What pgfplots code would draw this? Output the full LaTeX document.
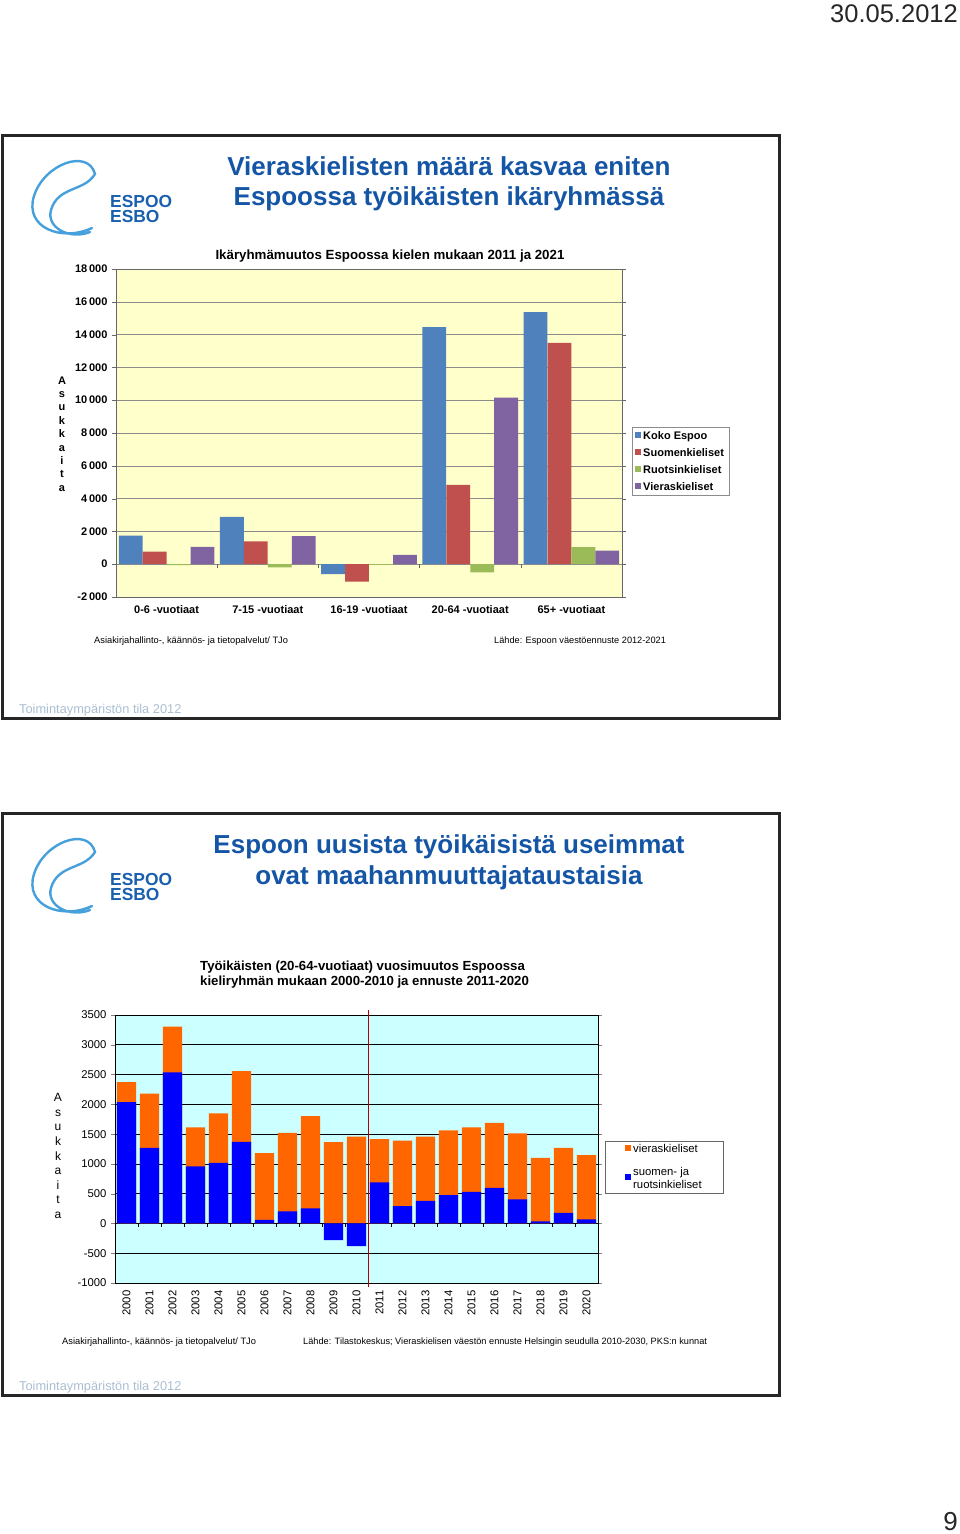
\documentclass[border=0pt]{standalone}
\usepackage{fontspec}
\setmainfont{Liberation Sans}
\usepackage{pgfplots}
\usepackage{pgfplotstable}
\pgfplotsset{compat=1.18}

\definecolor{koko}{RGB}{79,129,189}
\definecolor{suomi}{RGB}{192,80,77}
\definecolor{ruotsi}{RGB}{155,187,89}
\definecolor{vieras}{RGB}{128,100,162}
\definecolor{paperyellow}{RGB}{255,255,204}
\definecolor{papercyan}{RGB}{204,255,255}
\definecolor{vorange}{RGB}{255,102,0}
\definecolor{vblue}{RGB}{0,0,255}
\definecolor{titleblue}{RGB}{20,85,165}
\definecolor{logoblue}{RGB}{70,160,220}
\definecolor{espooblue}{RGB}{25,95,175}
\definecolor{footgray}{RGB}{170,190,210}

% change by age group 2011-2021
\pgfplotstableread{
g koko suomi ruotsi vieras
0 1750 770 -60 1060
1 2880 1390 -200 1710
2 -610 -1060 -40 570
3 14450 4840 -500 10160
4 15370 13500 1040 830
}\ikaryhmat

% yearly change of working-age population
\pgfplotstableread{
i blue orange
0 2038 336
1 1271 907
2 2537 767
3 958 655
4 1019 829
5 1372 1187
6 62 1120
7 202 1321
8 252 1551
9 -280 1366
10 -381 1456
11 689 728
12 291 1098
13 381 1075
14 476 1086
15 532 1081
16 599 1092
17 403 1109
18 34 1069
19 179 1092
20 67 1081
}\vuosimuutos

\newcommand{\fs}[1]{\fontsize{#1}{#1}\selectfont}
\newcommand{\logo}[1]{%
  \begin{scope}[yshift=#1]
  \draw[logoblue, line width=2.4pt, line cap=round]
    (92,-228) .. controls (62,-242) and (24,-228) .. (34,-196)
    .. controls (44,-164) and (88,-148) .. (95,-174)
    .. controls (84,-192) and (58,-186) .. (51,-210)
    .. controls (46,-228) and (70,-240) .. (90,-232);
  \end{scope}
  \node[anchor=base west, inner sep=0, font=\bfseries\fs{17.4}, text=espooblue] at (110,-207+#1) {ESPOO};
  \node[anchor=base west, inner sep=0, font=\bfseries\fs{17.4}, text=espooblue] at (110,-222+#1) {ESBO};
}

\begin{document}
\begin{tikzpicture}[x=1pt,y=1pt]
\path[use as bounding box] (0,0) rectangle (960,-1534);

\node[anchor=base east, inner sep=0, font=\fs{25.5}, text=black!85] at (958,-22) {30.05.2012};
\node[anchor=base east, inner sep=0, font=\fs{26}, text=black!85] at (958,-1530) {9};

%%%%%%%%%%%%%%%% slide 1
\draw[black!85, line width=3pt] (2,-135) rectangle (779,-718);
\logo{0}
\node[anchor=base, inner sep=0, font=\bfseries\fs{26}, text=titleblue] at (449,-175) {Vieraskielisten määrä kasvaa eniten};
\node[anchor=base, inner sep=0, font=\bfseries\fs{26}, text=titleblue] at (449,-205) {Espoossa työikäisten ikäryhmässä};
\node[anchor=base, inner sep=0, font=\bfseries\fs{13.3}] at (390,-259) {Ikäryhmämuutos Espoossa kielen mukaan 2011 ja 2021};
\node[inner sep=0, align=center, font={\bfseries\fontsize{11}{13.4}\selectfont}] at (62,-434) {A\\s\\u\\k\\k\\a\\i\\t\\a};

\begin{axis}[
  at={(116pt,-597pt)}, anchor=south west,
  scale only axis, width=506pt, height=328pt,
  axis background/.style={fill=paperyellow},
  clip=false,
  xmin=-0.5, xmax=4.5, ymin=-2000, ymax=18000,
  ytick={-2000,0,...,18000},
  scaled y ticks=false,
  xtick={0,...,4},
  xticklabels={0-6 -vuotiaat, 7-15 -vuotiaat, 16-19 -vuotiaat, 20-64 -vuotiaat, 65+ -vuotiaat},
  ymajorgrids, major grid style={black!45},
  axis line style={black!60},
  xtick style={draw=none},
  ytick style={black!60},
  tick align=outside, major tick length=4pt,
  tick label style={font=\bfseries\fs{11}},
  yticklabel style={xshift=-1pt},
  /pgf/number format/1000 sep={\,},
  /pgf/number format/assume math mode=true,
  xticklabel style={yshift=-1pt},
  legend style={at={(rel axis cs:1.0198,0.518)}, anchor=north west,
    draw=black!45, fill=white, font={\bfseries\fontsize{11}{13}\selectfont},
    inner xsep=3pt, inner ysep=2pt,
    row sep=3.5pt, cells={anchor=west}},
  legend image code/.code={\fill[#1,draw=none] (0pt,-2pt) rectangle (6pt,4pt);},
]
\addplot[ybar, bar width=0.235, bar shift=-0.355, fill=koko, draw=none] table[x=g, y=koko] {\ikaryhmat};
\addplot[ybar, bar width=0.235, bar shift=-0.1183, fill=suomi, draw=none] table[x=g, y=suomi] {\ikaryhmat};
\addplot[ybar, bar width=0.235, bar shift=0.1183, fill=ruotsi, draw=none] table[x=g, y=ruotsi] {\ikaryhmat};
\addplot[ybar, bar width=0.235, bar shift=0.355, fill=vieras, draw=none] table[x=g, y=vieras] {\ikaryhmat};
\legend{Koko Espoo, Suomenkieliset, Ruotsinkieliset, Vieraskieliset}
\pgfplotsinvokeforeach{0.5,1.5,2.5,3.5}{\draw[black!60] (axis cs:#1,0) -- ++(0pt,-4pt);}
\end{axis}

\node[anchor=base west, inner sep=0, font=\fs{9.3}] at (94,-643) {Asiakirjahallinto-, käännös- ja tietopalvelut/ TJo};
\node[anchor=base west, inner sep=0, font=\fs{9.2}] at (494,-643) {Lähde: Espoon väestöennuste 2012-2021};
\node[anchor=base west, inner sep=0, font=\fs{12.8}, text=footgray] at (19,-713) {Toimintaympäristön tila 2012};

%%%%%%%%%%%%%%%% slide 2
\draw[black!85, line width=3pt] (2,-813) rectangle (779,-1395);
\logo{-678}
\node[anchor=base, inner sep=0, font=\bfseries\fs{26}, text=titleblue] at (449,-853) {Espoon uusista työikäisistä useimmat};
\node[anchor=base, inner sep=0, font=\bfseries\fs{26}, text=titleblue] at (449,-884) {ovat maahanmuuttajataustaisia};
\node[anchor=base west, inner sep=0, font=\bfseries\fs{13.2}] at (200,-970) {Työikäisten (20-64-vuotiaat) vuosimuutos Espoossa};
\node[anchor=base west, inner sep=0, font=\bfseries\fs{13.2}] at (200,-985) {kieliryhmän mukaan 2000-2010 ja ennuste 2011-2020};
\node[inner sep=0, align=center, font={\fontsize{12}{14.6}\selectfont}] at (58,-1156) {A\\s\\u\\k\\k\\a\\i\\t\\a};

\begin{axis}[
  at={(115pt,-1283pt)}, anchor=south west,
  scale only axis, width=483pt, height=268pt,
  axis background/.style={fill=papercyan},
  clip=false,
  xmin=-0.5, xmax=20.5, ymin=-1000, ymax=3500,
  ytick={-1000,-500,...,3500},
  scaled y ticks=false,
  xtick={0,...,20},
  xticklabels={2000,2001,2002,2003,2004,2005,2006,2007,2008,2009,2010,2011,2012,2013,2014,2015,2016,2017,2018,2019,2020},
  ymajorgrids, major grid style={black, line width=0.8pt},
  axis line style={black},
  xtick style={draw=none},
  tick align=outside, major tick length=4pt,
  tick label style={font=\fs{11.3}},
  yticklabel style={xshift=-1pt},
  /pgf/number format/1000 sep={},
  /pgf/number format/assume math mode=true,
  xticklabel style={rotate=90, anchor=east},
  legend style={at={(rel axis cs:1.0145,0.53)}, anchor=north west,
    draw=black!60, fill=white, font={\fontsize{11.3}{13}\selectfont},
    inner xsep=20pt, inner ysep=1.5pt,
    row sep=9pt, cells={anchor=west, align=left}},
  legend image code/.code={\fill[#1,draw=none] (0pt,-1.5pt) rectangle (6pt,4.5pt);},
]
\addplot[ybar, bar width=0.83, bar shift=0, fill=vorange, draw=none]
  table[x=i, y expr={max(\thisrow{blue},0)+\thisrow{orange}}] {\vuosimuutos};
\addplot[ybar, bar width=0.83, bar shift=0, fill=vblue, draw=none]
  table[x=i, y=blue] {\vuosimuutos};
\legend{vieraskieliset, suomen- ja\\ruotsinkieliset}
\pgfplotsinvokeforeach{0.5,1.5,...,19.5}{\draw[black] (axis cs:#1,0) -- ++(0pt,-3.5pt);}
\draw[red!70!black, line width=1pt] (axis cs:10.5,-1065) -- (axis cs:10.5,3585);
\end{axis}

\node[anchor=base west, inner sep=0, font=\fs{9.3}] at (62,-1344) {Asiakirjahallinto-, käännös- ja tietopalvelut/ TJo};
\node[anchor=base west, inner sep=0, font=\fs{9.2}] at (303,-1344) {Lähde: Tilastokeskus; Vieraskielisen väestön ennuste Helsingin seudulla 2010-2030, PKS:n kunnat};
\node[anchor=base west, inner sep=0, font=\fs{12.8}, text=footgray] at (19,-1390) {Toimintaympäristön tila 2012};
\end{tikzpicture}
\end{document}
